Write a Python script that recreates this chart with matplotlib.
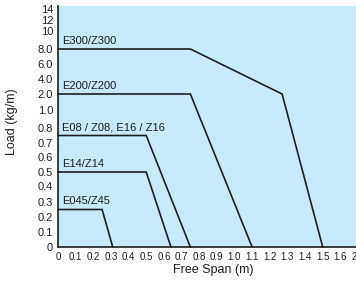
import numpy as np
import matplotlib
matplotlib.use('Agg')
import matplotlib.pyplot as plt

# tick values shown on the axes
x_ticks = [0, 0.1, 0.2, 0.3, 0.4, 0.5, 0.6, 0.7, 0.8, 0.9, 1.0, 1.1, 1.2, 1.3, 1.4, 1.5, 1.6, 2.0]
x_labels = ['0', '0.1', '0.2', '0.3', '0.4', '0.5', '0.6', '0.7', '0.8', '0.9', '1.0',
            '1.1', '1.2', '1.3', '1.4', '1.5', '1.6', '2.0']
y_ticks = [0, 0.1, 0.2, 0.3, 0.4, 0.5, 0.6, 0.7, 0.8, 1.0, 2.0, 4.0, 6.0, 8.0, 10, 12, 14]
y_labels = ['0', '0.1', '0.2', '0.3', '0.4', '0.5', '0.6', '0.7', '0.8', '1.0', '2.0',
            '4.0', '6.0', '8.0', '10', '12', '14']

# load curves: free span (m) vs load (kg/m)
series_names = ['E300/Z300', 'E200/Z200', 'E08 / Z08, E16 / Z16', 'E14/Z14', 'E045/Z45']
span_e300 = [0, 0.75, 1.27, 1.5]
load_e300 = [8.0, 8.0, 2.0, 0]
span_e200 = [0, 0.75, 1.1]
load_e200 = [2.0, 2.0, 0]
span_e08 = [0, 0.5, 0.75]
load_e08 = [0.75, 0.75, 0]
span_e14 = [0, 0.5, 0.64]
load_e14 = [0.5, 0.5, 0]
span_e045 = [0, 0.25, 0.31]
load_e045 = [0.25, 0.25, 0]

spans = [span_e300, span_e200, span_e08, span_e14, span_e045]
loads = [load_e300, load_e200, load_e08, load_e14, load_e045]

# the chart's axes are not linear: ticks sit at hand-placed positions
x_grid = np.array(x_ticks + [2.5])
x_place = np.array(list(range(len(x_ticks))) + [18])
y_grid = np.array(y_ticks + [16])
y_place = np.array([0, 15, 30, 45, 61, 75, 90, 104, 119, 137, 153, 168, 183, 198, 216, 227, 238, 244])


def fx(v):
    return np.interp(v, x_grid, x_place)


def fx_inv(p):
    return np.interp(p, x_place, x_grid)


def fy(v):
    return np.interp(v, y_grid, y_place)


def fy_inv(p):
    return np.interp(p, y_place, y_grid)


font = ['Liberation Sans', 'DejaVu Sans']
bg = '#c8e9f9'
ink = '#1e1e1e'

fig = plt.figure(figsize=(3.56, 2.88), dpi=100)
ax = fig.add_axes([58 / 356, 41 / 288, 300 / 356, 241 / 288])
ax.set_facecolor(bg)
ax.set_xscale('function', functions=(fx, fx_inv))
ax.set_yscale('function', functions=(fy, fy_inv))
ax.set_xlim(0, 2.0)
ax.set_ylim(0, 15)

for name, xs, ys in zip(series_names, spans, loads):
    ax.plot(xs, ys, color=ink, lw=1.2, solid_joinstyle='miter', clip_on=False)
    ax.annotate(name, xy=(0, ys[0]), xytext=(4, 3), textcoords='offset pixels',
                ha='left', va='bottom', fontsize=8, family=font, color=ink)

ax.set_xticks(x_ticks)
ax.set_xticklabels(x_labels, family=font, fontsize=7)
ax.set_yticks(y_ticks)
ax.set_yticklabels(y_labels, family=font, fontsize=8)
ax.xaxis.set_minor_locator(matplotlib.ticker.NullLocator())
ax.yaxis.set_minor_locator(matplotlib.ticker.NullLocator())
ax.tick_params(axis='both', length=0, pad=3.5, colors=ink)

for side in ['top', 'right']:
    ax.spines[side].set_visible(False)
for side in ['left', 'bottom']:
    ax.spines[side].set_color(ink)
    ax.spines[side].set_linewidth(1.2)

ax.set_xlabel('Free Span (m)', family=font, fontsize=9, color=ink)
ax.set_ylabel('Load (kg/m)', family=font, fontsize=9, color=ink)
ax.xaxis.set_label_coords(0.517, -0.07)
ax.yaxis.set_label_coords(-0.135, 0.52)

fig.savefig('out.png', dpi=100)
